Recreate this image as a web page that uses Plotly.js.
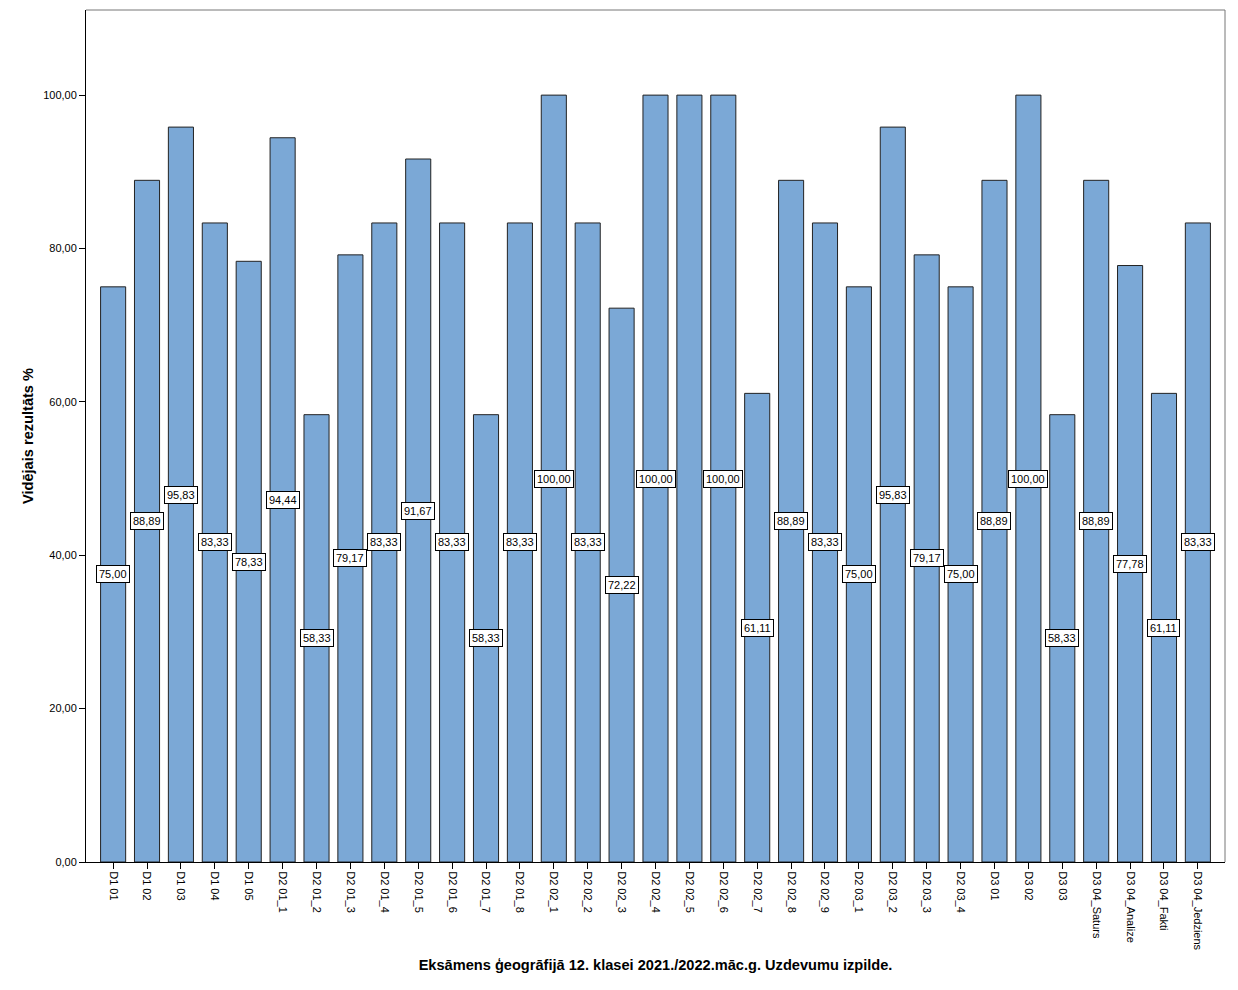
<!DOCTYPE html>
<html>
<head>
<meta charset="utf-8">
<script src="https://cdn.plot.ly/plotly-3.0.1.min.js"></script>
<style>html,body{margin:0;padding:0;background:#fff;}#chart{width:1238px;height:990px;}</style>
</head>
<body>
<div id="chart"></div>
<script>
const categories = ["D1 01","D1 02","D1 03","D1 04","D1 05","D2 01_1","D2 01_2","D2 01_3","D2 01_4","D2 01_5","D2 01_6","D2 01_7","D2 01_8","D2 02_1","D2 02_2","D2 02_3","D2 02_4","D2 02_5","D2 02_6","D2 02_7","D2 02_8","D2 02_9","D2 03_1","D2 03_2","D2 03_3","D2 03_4","D3 01","D3 02","D3 03","D3 04_Saturs","D3 04_Analize","D3 04_Fakti","D3 04_Jedziens"];
const values = [75.00,88.89,95.83,83.33,78.33,94.44,58.33,79.17,83.33,91.67,83.33,58.33,83.33,100.00,83.33,72.22,100.00,100.00,100.00,61.11,88.89,83.33,75.00,95.83,79.17,75.00,88.89,100.00,58.33,88.89,77.78,61.11,83.33];
const hiddenLabels = ["D2 02_5"];
const yTickVals = [0,20,40,60,80,100];
const yTickText = ["0,00","20,00","40,00","60,00","80,00","100,00"];

const fmt = v => v.toFixed(2).replace('.', ',');
const font = "Liberation Sans, Arial, sans-serif";

const trace = {
  type: 'bar',
  x: categories.map((c,i)=>i),
  y: values,
  width: 0.74,
  marker: {color: '#7BA8D6', line: {color: '#222222', width: 1}},
  hoverinfo: 'skip'
};

const annotations = values.map((v,i)=>({
  x: i, y: v/2, xref: 'x', yref: 'y',
  text: fmt(v), showarrow: false,
  bgcolor: '#ffffff', bordercolor: '#000000', borderwidth: 1, borderpad: 2,
  font: {family: font, size: 11, color: '#000'}
})).filter((a,i)=>!hiddenLabels.includes(categories[i]));

const layout = {
  width: 1238, height: 990,
  margin: {l: 86, r: 13, t: 10, b: 128},
  paper_bgcolor: '#fff', plot_bgcolor: '#fff',
  showlegend: false,
  font: {family: font, size: 11, color: '#000'},
  xaxis: {
    range: [-0.8, 32.8],
    tickvals: categories.map((c,i)=>i),
    ticktext: categories,
    tickangle: 90,
    ticks: 'outside', ticklen: 6, tickcolor: '#000', tickwidth: 1,
    showgrid: false, zeroline: false,
    showline: true, linecolor: '#000', linewidth: 1,
    tickfont: {family: font, size: 11, color: '#000'},
    title: {text: 'Eksāmens ģeogrāfijā 12. klasei 2021./2022.māc.g. Uzdevumu izpilde.', font: {family: font, size: 14.6, color: '#000', weight: 'bold'}, standoff: 10}
  },
  yaxis: {
    range: [0, 111.1],
    tickvals: yTickVals, ticktext: yTickText,
    ticks: 'outside', ticklen: 6, tickcolor: '#000', tickwidth: 1,
    showgrid: false, zeroline: false,
    showline: true, linecolor: '#000', linewidth: 1,
    tickfont: {family: font, size: 11, color: '#000'},
    title: {text: 'Vidējais rezultāts %', font: {family: font, size: 14.6, color: '#000', weight: 'bold'}, standoff: 6}
  },
  shapes: [
    {type:'line', xref:'paper', yref:'paper', x0:0, x1:1, y0:1, y1:1, line:{color:'#777', width:1}},
    {type:'line', xref:'paper', yref:'paper', x0:1, x1:1, y0:0, y1:1, line:{color:'#777', width:1}}
  ],
  annotations: annotations
};

Plotly.newPlot('chart', [trace], layout, {displayModeBar: false, staticPlot: true});
</script>
</body>
</html>
